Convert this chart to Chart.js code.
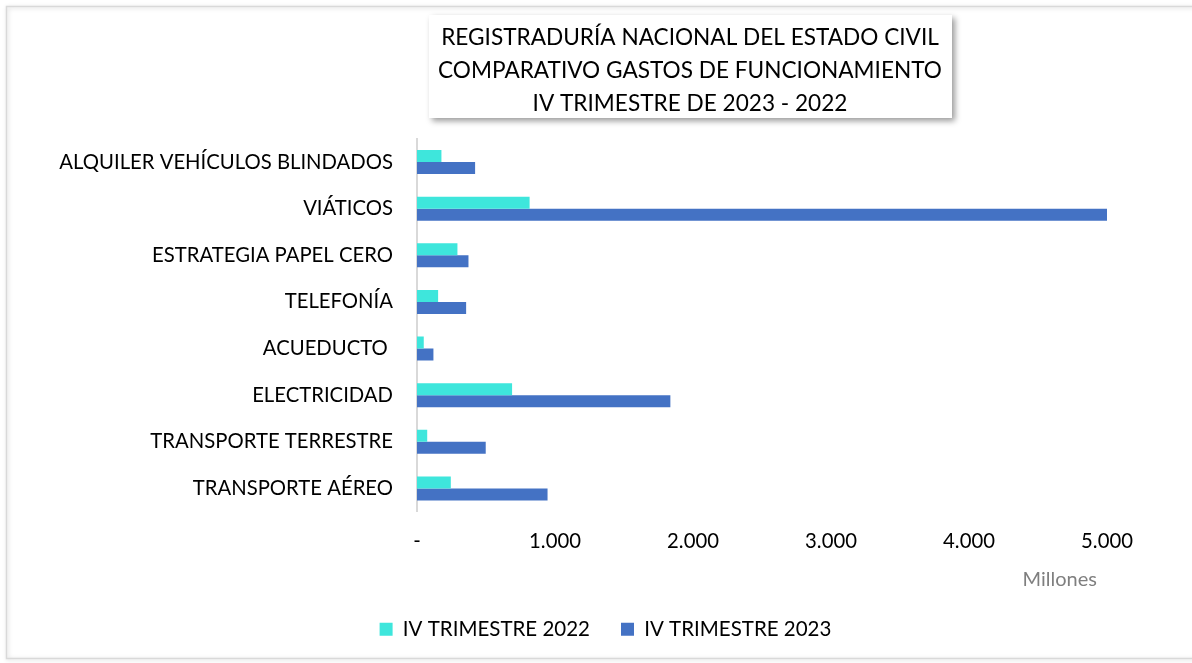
<!DOCTYPE html>
<html>
<head>
<meta charset="utf-8">
<script src="https://cdn.jsdelivr.net/npm/chart.js@4.4.1/dist/chart.umd.min.js"></script>
<style>
  html, body { margin: 0; padding: 0; background: #fff; }
  #wrap { width: 1192px; height: 663px; }
</style>
</head>
<body>
<div id="wrap"><canvas id="myChart" width="1192" height="663"></canvas></div>
<script>
// datos (millones de pesos)
const categorias = [
  'ALQUILER VEHÍCULOS BLINDADOS',
  'VIÁTICOS',
  'ESTRATEGIA PAPEL CERO',
  'TELEFONÍA',
  'ACUEDUCTO ',
  'ELECTRICIDAD',
  'TRANSPORTE TERRESTRE',
  'TRANSPORTE AÉREO'
];
const trimestre2022 = [177, 816, 293, 153, 49, 689, 74, 245];
const trimestre2023 = [421, 5000, 373, 356, 119, 1836, 498, 946];
const ticksX = [0, 1000, 2000, 3000, 4000, 5000];
const titulo = [
  'REGISTRADURÍA NACIONAL DEL ESTADO CIVIL',
  'COMPARATIVO GASTOS DE FUNCIONAMIENTO',
  'IV TRIMESTRE DE 2023 - 2022'
];
const unidad = 'Millones';

const fuente = 'Lato, Carlito, Calibri, sans-serif';

const formato = v => v === 0 ? '-' : String(v).replace(/\B(?=(\d{3})+(?!\d))/g, '.');

// marco exterior, caja del titulo y texto "Millones"
const marco = {
  id: 'marco',
  beforeDraw(chart) {
    const ctx = chart.ctx;
    ctx.save();
    ctx.fillStyle = '#fff';
    ctx.fillRect(0, 0, chart.width, chart.height);
    ctx.shadowColor = 'rgba(0,0,0,0.18)';
    ctx.shadowBlur = 4;
    ctx.shadowOffsetX = 1;
    ctx.shadowOffsetY = 1;
    ctx.strokeStyle = '#d9d9d9';
    ctx.lineWidth = 1.5;
    ctx.strokeRect(6.5, 6.5, chart.width + 10, chart.height - 11);
    // caja del titulo
    ctx.shadowColor = 'rgba(0,0,0,0.4)';
    ctx.shadowBlur = 6;
    ctx.shadowOffsetX = 3;
    ctx.shadowOffsetY = 3;
    ctx.fillStyle = '#fff';
    ctx.fillRect(429, 15, 523, 103);
    ctx.restore();
  },
  afterDraw(chart) {
    const ctx = chart.ctx;
    ctx.save();
    // tamaño de letra ajustado al ancho de la segunda linea
    ctx.font = '20px ' + fuente;
    const w = ctx.measureText(titulo[1]).width;
    const size = 20 * 504 / w;
    ctx.font = size.toFixed(2) + 'px ' + fuente;
    ctx.fillStyle = '#000';
    ctx.textAlign = 'center';
    ctx.textBaseline = 'alphabetic';
    titulo.forEach((t, i) => ctx.fillText(t, 690, 45 + i * 33.2));

    ctx.font = '20px ' + fuente;
    ctx.fillStyle = '#7f7f7f';
    ctx.textAlign = 'right';
    ctx.textBaseline = 'middle';
    ctx.fillText(unidad, 1097, 580);
    ctx.restore();
  },
  afterLayout(chart) {
    // la leyenda va centrada un poco a la derecha
    if (chart.legend) {
      chart.legend.left += 52;
      chart.legend.right += 52;
    }
  }
};

const ctx = document.getElementById('myChart').getContext('2d');
const myChart = new Chart(ctx, {
  type: 'bar',
  data: {
    labels: categorias,
    datasets: [
      {
        label: 'IV TRIMESTRE 2022',
        data: trimestre2022,
        backgroundColor: '#3ee6dc',
        categoryPercentage: 0.515,
        barPercentage: 1
      },
      {
        label: 'IV TRIMESTRE 2023',
        data: trimestre2023,
        backgroundColor: '#4472c4',
        categoryPercentage: 0.515,
        barPercentage: 1
      }
    ]
  },
  options: {
    indexAxis: 'y',
    responsive: false,
    animation: false,
    layout: { padding: { left: 0, top: 138.7, right: 85, bottom: 13.5 } },
    scales: {
      y: {
        grid: { display: false, drawTicks: false },
        border: { display: true, color: '#d9d9d9', width: 2 },
        ticks: { color: '#000', font: { family: fuente, size: 20.3 }, padding: 24 },
        afterFit(scale) { scale.width = 417; }
      },
      x: {
        min: 0,
        max: 5000,
        afterBuildTicks(scale) { scale.ticks = ticksX.map(v => ({ value: v })); },
        grid: { display: false, drawTicks: false },
        border: { display: false },
        ticks: {
          color: '#000',
          font: { family: fuente, size: 20.3 },
          padding: 18,
          callback: v => formato(v)
        },
        afterFit(scale) { scale.height = 76.3; }
      }
    },
    plugins: {
      legend: {
        position: 'bottom',
        labels: {
          color: '#000',
          font: { family: fuente, size: 20.5 },
          boxWidth: 13,
          boxHeight: 13,
          padding: 31
        }
      },
      tooltip: { enabled: false }
    }
  },
  plugins: [marco]
});
</script>
</body>
</html>
